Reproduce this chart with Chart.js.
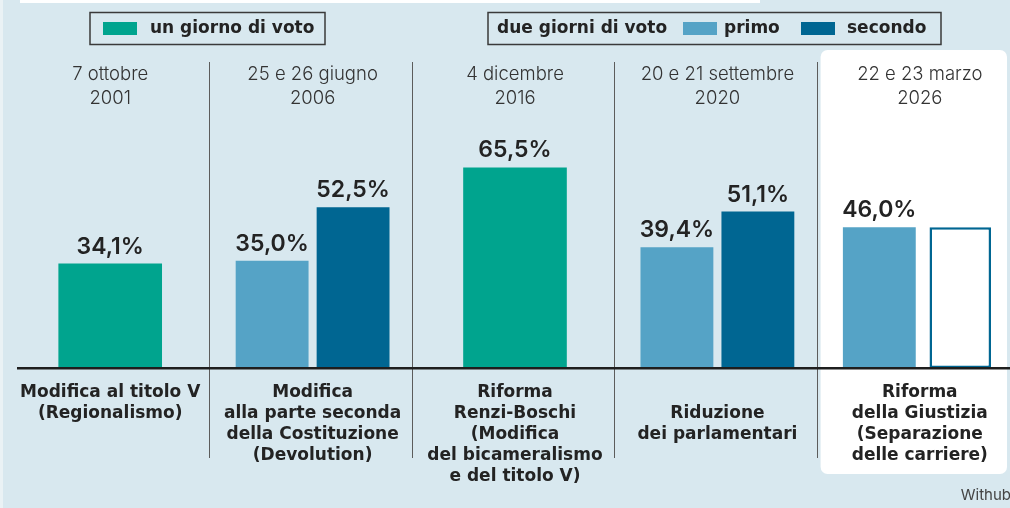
<!DOCTYPE html>
<html lang="it">
<head>
<meta charset="utf-8">
<title>Affluenza ai referendum costituzionali</title>
<script src="https://cdn.jsdelivr.net/npm/chart.js@4.4.1/dist/chart.umd.min.js"></script>
<style>
  html, body { margin: 0; padding: 0; background: #d8e8ef; overflow: hidden; }
  #wrap { width: 1010px; height: 508px; overflow: hidden; position: relative; }
  canvas { display: block; }
</style>
</head>
<body>
<div id="wrap"><canvas id="chart" width="1030" height="508"></canvas></div>
<script>
const dates = [
    ['7 ottobre', '2001'],
    ['25 e 26 giugno', '2006'],
    ['4 dicembre', '2016'],
    ['20 e 21 settembre', '2020'],
    ['22 e 23 marzo', '2026']
];
const referendums = [
    ['Modifica al titolo V', '(Regionalismo)'],
    ['Modifica', 'alla parte seconda', 'della Costituzione', '(Devolution)'],
    ['Riforma', 'Renzi-Boschi', '(Modifica', 'del bicameralismo', 'e del titolo V)'],
    ['', 'Riduzione', 'dei parlamentari'],
    ['Riforma', 'della Giustizia', '(Separazione', 'delle carriere)']
];
// affluenza in %
const unGiorno = [34.1, null, 65.5, null, null];
const primoGiorno = [null, 35.0, null, 39.4, 46.0];
const secondoGiorno = [null, 52.5, null, 51.1, null];
const secondoInAttesa = [null, null, null, null, 46.0];   // barra vuota, dato non ancora noto

const BG = '#d8e8ef';
const GREEN = '#00a48e';
const LIGHT = '#55a3c6';
const DARK = '#006692';
const INK = '#232323';
const FONT = 'Inter';
const WIDE = '"DejaVu Sans"';

function fmt(v) {
    return v.toFixed(1).replace('.', ',') + '%';
}

const backdrop = {
    id: 'backdrop',
    beforeDraw(chart) {
        const ctx = chart.ctx;
        const x = chart.scales.x;
        const last = referendums.length - 1;
        const half = (x.getPixelForValue(1) - x.getPixelForValue(0)) / 2;
        ctx.save();
        ctx.fillStyle = BG;
        ctx.fillRect(0, 0, chart.width, chart.height);
        ctx.fillStyle = '#eaf2f5';
        ctx.fillRect(0, 0, 3, chart.height);
        ctx.fillStyle = '#ffffff';
        ctx.fillRect(20, 0, 740, 3);

        // pannello bianco dietro l'ultimo referendum
        const left = x.getPixelForValue(last) - half + 2;
        ctx.beginPath();
        ctx.roundRect(left, 50, 1007 - left, 424, 7);
        ctx.fill();

        // separatori verticali
        ctx.strokeStyle = '#5c5c5c';
        ctx.lineWidth = 1;
        for (let i = 0; i < last; i++) {
            const sx = Math.round(x.getPixelForValue(i) + half) - 1.5;
            ctx.beginPath();
            ctx.moveTo(sx, 62);
            ctx.lineTo(sx, 458);
            ctx.stroke();
        }
        ctx.restore();
    },
    afterDatasetsDraw(chart) {
        const ctx = chart.ctx;
        const area = chart.chartArea;
        ctx.save();
        // linea di base
        ctx.fillStyle = '#1e1e1e';
        ctx.fillRect(17, area.bottom - 1, 1000, 2.5);

        // etichette dei valori
        ctx.font = '600 23px ' + FONT;
        ctx.fillStyle = INK;
        ctx.textAlign = 'center';
        ctx.textBaseline = 'alphabetic';
        chart.data.datasets.forEach((ds, di) => {
            if (ds.showValue === false) return;
            const meta = chart.getDatasetMeta(di);
            meta.data.forEach((bar, i) => {
                const v = ds.data[i];
                if (v === null) return;
                ctx.fillText(fmt(v), bar.x, bar.y - 10);
            });
        });
        ctx.restore();
    },
    afterDraw(chart) {
        const ctx = chart.ctx;
        ctx.save();
        ctx.font = 'bold 17px ' + WIDE;
        ctx.textBaseline = 'middle';
        ctx.textAlign = 'left';

        function box(x0, x1) {
            ctx.strokeStyle = '#3a3a3a';
            ctx.lineWidth = 1.5;
            ctx.strokeRect(x0, 12.5, x1 - x0, 32);
        }
        function swatch(x, color) {
            ctx.fillStyle = color;
            ctx.fillRect(x, 22, 34, 13);
        }
        function label(x, text) {
            ctx.fillStyle = INK;
            ctx.fillText(text, x, 29);
        }

        // riquadro 1
        swatch(103, GREEN);
        label(150, 'un giorno di voto');
        box(90, 325);

        // riquadro 2
        label(497, 'due giorni di voto');
        swatch(683, LIGHT);
        label(724, 'primo');
        swatch(801, DARK);
        label(847, 'secondo');
        box(488, 941);

        ctx.font = '15px ' + FONT;
        ctx.fillStyle = '#444444';
        ctx.textAlign = 'right';
        ctx.fillText('Withub', 1011, 495);
        ctx.restore();
    }
};

new Chart(document.getElementById('chart'), {
    type: 'bar',
    data: {
        labels: referendums,
        datasets: [
            {
                label: 'un giorno di voto',
                data: unGiorno,
                backgroundColor: GREEN,
                barPercentage: 0.64
            },
            {
                label: 'primo',
                data: primoGiorno,
                backgroundColor: LIGHT,
                barPercentage: 0.9
            },
            {
                label: 'secondo',
                data: secondoGiorno,
                backgroundColor: DARK,
                barPercentage: 0.9
            },
            {
                label: 'secondo (in attesa)',
                data: secondoInAttesa,
                backgroundColor: '#ffffff',
                borderColor: DARK,
                borderWidth: 2.5,
                borderSkipped: false,
                barPercentage: 0.76,
                showValue: false
            }
        ]
    },
    options: {
        responsive: false,
        animation: false,
        skipNull: true,
        layout: { padding: { top: 50, left: 9, right: 9, bottom: 0 } },
        plugins: {
            legend: { display: false },
            tooltip: { enabled: false }
        },
        scales: {
            x: {
                position: 'bottom',
                categoryPercentage: 0.85,
                grid: { display: false, drawTicks: false },
                border: { display: false },
                ticks: {
                    autoSkip: false,
                    maxRotation: 0,
                    minRotation: 0,
                    padding: 14.5,
                    color: INK,
                    font: { family: WIDE, weight: 'bold', size: 17, lineHeight: 1.235 }
                },
                afterFit(scale) { scale.height = 140; }
            },
            xTop: {
                type: 'category',
                position: 'top',
                labels: dates,
                offset: true,
                grid: { display: false, drawTicks: false },
                border: { display: false },
                ticks: {
                    autoSkip: false,
                    maxRotation: 0,
                    minRotation: 0,
                    padding: 13,
                    color: '#333333',
                    font: { family: FONT, weight: '300', size: 18.5, lineHeight: 1.28 }
                },
                afterFit(scale) { scale.height = 73; }
            },
            y: {
                display: false,
                min: 0,
                max: 80
            }
        }
    },
    plugins: [backdrop]
});
</script>
</body>
</html>
